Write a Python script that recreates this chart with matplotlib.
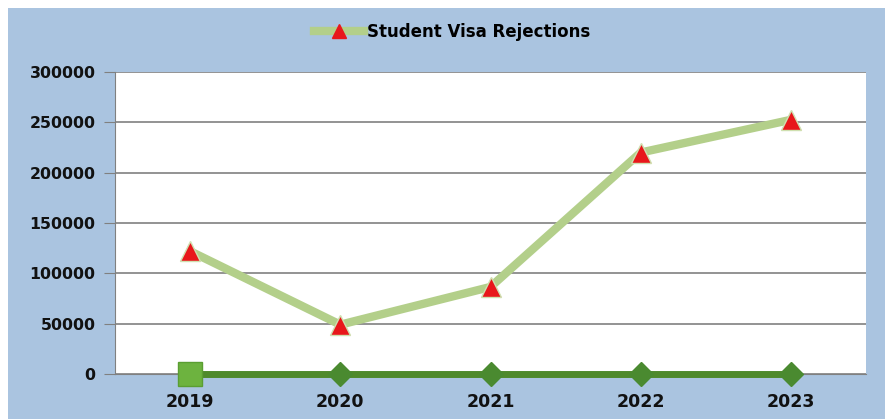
import matplotlib
matplotlib.use("Agg")
import matplotlib.pyplot as plt
from matplotlib.patches import Rectangle
from matplotlib.lines import Line2D

years = ["2019", "2020", "2021", "2022", "2023"]
rejections = [122000, 49000, 86500, 220000, 252500]
baseline = [0, 0, 0, 0, 0]
yticks = [0, 50000, 100000, 150000, 200000, 250000, 300000]

W, H = 885, 419
fig = plt.figure(figsize=(W / 100, H / 100), dpi=100, facecolor="white")
fig.patches.append(Rectangle((8 / W, 0), 1 - 8 / W, 1 - 8 / H, transform=fig.transFigure,
                             facecolor="#aac4e0", edgecolor="none", zorder=-1))

ax = fig.add_axes([115 / W, 1 - 374 / H, (866 - 115) / W, (374 - 72) / H])
ax.set_facecolor("white")
x = list(range(len(years)))

ax.plot(x, baseline, color="#4f8a2c", lw=5, marker="D", ms=12, mfc="#4a8a30",
        mec="#4a8a30", zorder=3, clip_on=False)
ax.plot([x[0]], [baseline[0]], marker="s", ms=17, color="#6db33f", mec="#5a9e32",
        zorder=4, clip_on=False)
ax.plot(x, rejections, color="#b3cf8a", lw=6, marker="^", ms=14, mfc="#e8171b",
        mec="#cfe0b0", mew=1, zorder=5, clip_on=False)

ax.set_xlim(-0.5, 4.5)
ax.set_ylim(0, 300000)
ax.set_yticks(yticks)
ax.set_yticklabels([str(v) for v in yticks])
ax.set_xticks(x)
ax.set_xticklabels(years)
ax.yaxis.grid(True, color="#808080", lw=1.2)
ax.set_axisbelow(True)
for s in ["top", "right"]:
    ax.spines[s].set_visible(False)
ax.spines["left"].set_color("#808080")
ax.spines["bottom"].set_color("#808080")
ax.tick_params(axis="y", length=8, color="#808080", labelsize=11.3, pad=6)
ax.tick_params(axis="x", length=0, labelsize=12.5, pad=14)
for lab in ax.get_xticklabels() + ax.get_yticklabels():
    lab.set_fontweight("bold")
    lab.set_color("#111111")

handle = Line2D([], [], color="#b3cf8a", lw=6, marker="^", ms=10, mfc="#e8171b", mec="#e8171b")
fig.legend([handle], ["Student Visa Rejections"], loc="center", bbox_to_anchor=(452 / W, 1 - 32 / H),
           frameon=False, prop={"weight": "bold", "size": 12}, handlelength=3, handletextpad=0.2)

fig.savefig("out.png", dpi=100, facecolor="white")
